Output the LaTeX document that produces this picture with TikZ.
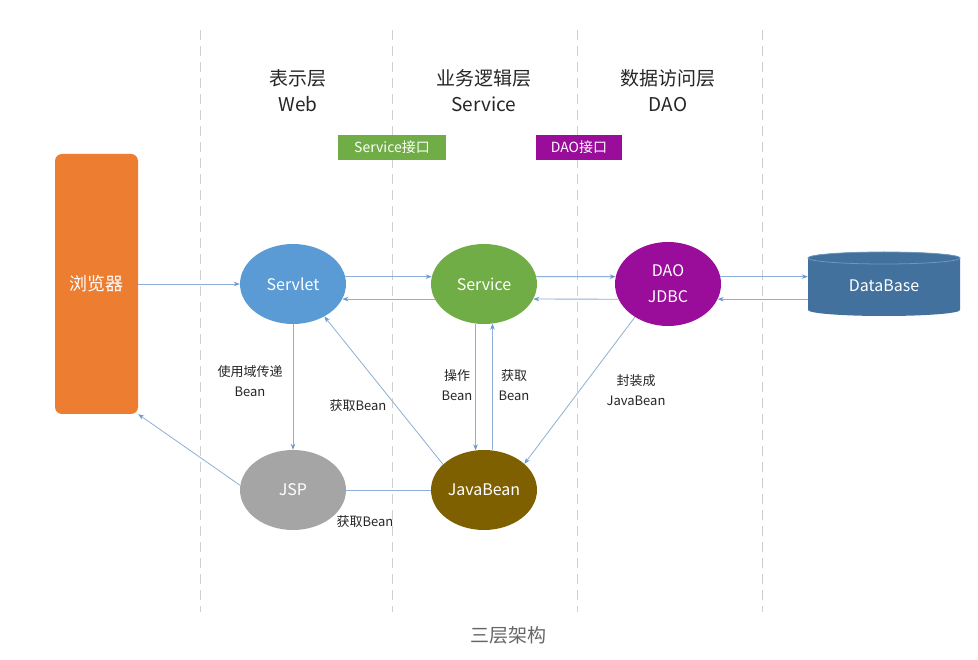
\documentclass[tikz,border=0pt]{standalone}
\usepackage{fontspec}
\setmainfont{Noto Sans CJK SC}
\usetikzlibrary{shapes.geometric,arrows.meta,calc}
\definecolor{cOrange}{HTML}{ED7D31}
\definecolor{cBlue}{HTML}{5B9BD5}
\definecolor{cGreen}{HTML}{70AD47}
\definecolor{cPurple}{HTML}{9A0C9A}
\definecolor{cOlive}{HTML}{7F6000}
\definecolor{cGray}{HTML}{A5A5A5}
\definecolor{cDB}{HTML}{41719C}
\definecolor{cRim}{HTML}{6E96BE}
\definecolor{cLine}{HTML}{8EAFD8}
\definecolor{cTip}{HTML}{6E98CF}
\definecolor{cSep}{HTML}{CFCFCF}
\definecolor{cText}{HTML}{262626}
\definecolor{cCap}{HTML}{666666}
\begin{document}
\begin{tikzpicture}[x=1pt,y=-1pt,
  sepline/.style={draw=cSep, line width=0.8pt, dash pattern=on 10pt off 6pt},
  hdr/.style={align=center, text=cText, font=\fontsize{19}{26}\selectfont},
  ibox/.style={rectangle, minimum height=25pt, inner sep=0pt, text=white, font=\fontsize{14}{16}\selectfont},
  ell/.style={ellipse, minimum width=106pt, minimum height=80pt, inner sep=0pt, text=white, align=center, font=\fontsize{16}{26}\selectfont},
  browserbox/.style={rectangle, rounded corners=7pt, fill=cOrange, minimum width=83pt, minimum height=260pt, text=white, font=\fontsize{18}{22}\selectfont},
  lbl/.style={align=center, text=cText, font=\fontsize{13}{20}\selectfont},
  conn/.style={draw=cLine, line width=0.8pt},
  arr/.style={conn, -{Stealth[length=6pt,width=4.5pt,color=cTip]}}
]
\useasboundingbox[fill=white] (0,0) rectangle (978,660);

% layer separators
\foreach \x in {200,392,577,762} \draw[sepline] (\x,30) -- (\x,612);

% headers
\node[hdr] (h1) at (298,91) {表示层\\Web};
\node[hdr] (h2) at (484,91) {业务逻辑层\\Service};
\node[hdr] (h3) at (668,91) {数据访问层\\DAO};

% interface boxes
\node[ibox, fill=cGreen, minimum width=108pt] (si) at (392,147.5) {Service接口};
\node[ibox, fill=cPurple, minimum width=86pt] (di) at (579,147.5) {DAO接口};

% browser
\node[browserbox] (br) at (96.5,284) {浏览器};

% ellipses
\node[ell, fill=cBlue] (servlet) at (293,284) {Servlet};
\node[ell, fill=cGreen] (service) at (484,284) {Service};
\node[ell, fill=cPurple, minimum height=84pt] (dao) at (668,284) {DAO\\JDBC};
\node[ell, fill=cGray] (jsp) at (293,490) {JSP};
\node[ell, fill=cOlive] (javabean) at (484,490) {JavaBean};

% database cylinder
\fill[cDB] (808,258) -- (808,310) arc[start angle=180, end angle=0, x radius=76, y radius=6]
  -- (960,258) arc[start angle=0, end angle=-180, x radius=76, y radius=6] -- cycle;
\draw[cRim, line width=0.8pt, fill=cDB] (884,258) ellipse [x radius=76, y radius=6];
\node[rectangle, minimum width=152pt, minimum height=64pt, inner sep=0pt, text=white, font=\fontsize{16}{20}\selectfont] (db) at (884,286) {DataBase};

% connectors
\draw[arr] (br.east) -- (servlet.west);
\draw[arr] (servlet.8) -- (service.172);
\draw[arr] (service.197) -- (servlet.-17);
\draw[arr] (service.8) -- (dao.172);
\draw[arr] (dao.197) -- (service.-17);
\draw[arr] (dao.8) -- (dao.8 -| db.west);
\draw[arr] (db.west |- dao.-17) -- (dao.-17);
\draw[arr] (servlet.south) -- (jsp.north);
\draw[arr] (service.-102) -- (javabean.102);
\draw[arr] (javabean.78) -- (service.-78);
\draw[arr] (javabean.148) -- (servlet.-46);
\draw[arr] (dao.-135) -- (javabean.33);
\draw[arr] (jsp.175) -- (br.south east);
\draw[conn] (jsp.east) -- (javabean.west);

% labels
\node[lbl] (l1) at (250,381) {使用域传递\\Bean};
\node[lbl] (l2) at (358,406) {获取Bean};
\node[lbl] (l3) at (457,385) {操作\\Bean};
\node[lbl] (l4) at (514,385) {获取\\Bean};
\node[lbl] (l5) at (636,390) {封装成\\JavaBean};
\node[lbl] (l6) at (365,522) {获取Bean};

% caption
\node[text=cCap, font=\fontsize{19}{22}\selectfont] (cap) at (508,635) {三层架构};
\end{tikzpicture}
\end{document}
